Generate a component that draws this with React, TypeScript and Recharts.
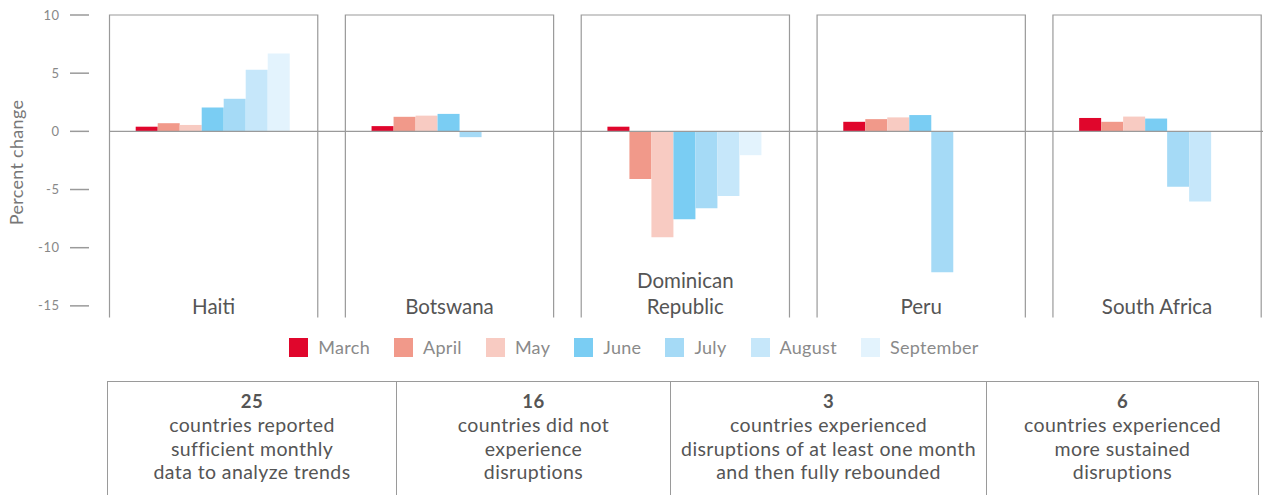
import React from 'react';
import { BarChart, Bar, XAxis, YAxis, ReferenceArea, ReferenceLine, Legend } from 'recharts';

const FONT = 'Lato, "Noto Sans", sans-serif';

// countries (a line break marks a two-line label)
const countries = ['Haiti', 'Botswana', 'Dominican\nRepublic', 'Peru', 'South Africa'];
const months = ['March', 'April', 'May', 'June', 'July', 'August', 'September'];
const monthColors = ['#e0062c', '#f1998a', '#f8cbc2', '#7acdf3', '#a5daf6', '#c6e7fa', '#e3f3fd'];

// percent change by month, one value per country
const march = [0.4, 0.45, 0.4, 0.82, 1.15];
const april = [0.7, 1.25, -4.1, 1.05, 0.82];
const may = [0.55, 1.35, -9.1, 1.2, 1.27];
const june = [2.05, 1.5, -7.55, 1.4, 1.1];
const july = [2.8, -0.5, -6.6, -12.1, -4.77];
const august = [5.3, null, -5.55, null, -6.03];
const september = [6.7, null, -2.05, null, null];
const seriesValues = [march, april, may, june, july, august, september];

const yTicks = [10, 5, 0, -5, -10, -15];

// summary boxes under the chart
const summaryCounts = ['25', '16', '3', '6'];
const summaryLines = [
  ['countries reported', 'sufficient monthly', 'data to analyze trends'],
  ['countries did not', 'experience', 'disruptions'],
  ['countries experienced', 'disruptions of at least one month', 'and then fully rebounded'],
  ['countries experienced', 'more sustained', 'disruptions'],
];
const summaryWidths = [289, 274, 316, 273];

const chartData = countries.map((country, i) => {
  const row: Record<string, any> = { country };
  months.forEach((m, j) => {
    row[m] = seriesValues[j][i];
  });
  return row;
});

const PANEL_INSET = 13.8;
const LINE_GRAY = '#9a9a9a';

const PanelFrame = (props: any) => {
  const { x, y, width, height } = props;
  const left = x + PANEL_INSET;
  const right = x + width - PANEL_INSET;
  return (
    <path
      d={`M${left},${y + height} V${y} H${right} V${y + height}`}
      fill="none"
      stroke={LINE_GRAY}
      strokeWidth={1.2}
    />
  );
};

const ZeroLine = (props: any) => {
  const { x1, x2, y1 } = props;
  return (
    <line
      x1={Math.min(x1, x2) + PANEL_INSET}
      x2={Math.max(x1, x2)}
      y1={y1}
      y2={y1}
      stroke={LINE_GRAY}
      strokeWidth={1.2}
    />
  );
};

// country names sit inside the panels, just above the axis
const CountryTick = (props: any) => {
  const { x, y, payload } = props;
  const lines = String(payload.value).split('\n');
  return (
    <text textAnchor="middle" fontFamily={FONT} fontSize={20.5} fill="#555">
      {lines.map((line, i) => (
        <tspan key={line} x={x} y={y - 4 - (lines.length - 1 - i) * 25.5}>
          {line}
        </tspan>
      ))}
    </text>
  );
};

const ValueTick = (props: any) => {
  const { x, y, payload } = props;
  return (
    <g>
      <line x1={x - 25.7} x2={x - 6.7} y1={y} y2={y} stroke={LINE_GRAY} strokeWidth={1.5} />
      <text x={x - 36} y={y + 4.6} textAnchor="end" fontFamily={FONT} fontSize={13} letterSpacing={0.6} fill="#888">
        {payload.value}
      </text>
    </g>
  );
};

const YTitle = () => (
  <text
    x={23}
    y={162.5}
    transform="rotate(-90 23 162.5)"
    textAnchor="middle"
    fontFamily={FONT}
    fontSize={18}
    letterSpacing={0.3}
    fill="#777"
  >
    Percent change
  </text>
);

const MonthLegend = () => (
  <div
    style={{
      display: 'flex',
      justifyContent: 'center',
      columnGap: 24,
      height: 42.5,
      paddingTop: 0.5,
      paddingRight: 7,
      boxSizing: 'border-box',
      fontFamily: FONT,
    }}
  >
    {months.map((m, i) => (
      <div key={m} style={{ display: 'flex', alignItems: 'center', height: 19 }}>
        <span style={{ width: 19, height: 19, background: monthColors[i], marginRight: 10 }} />
        <span style={{ fontSize: 18, letterSpacing: 0.3, color: '#8a8a8a', lineHeight: '19px' }}>{m}</span>
      </div>
    ))}
  </div>
);

const SummaryTable = () => (
  <div
    style={{
      position: 'absolute',
      top: 381,
      left: 107,
      display: 'flex',
      fontFamily: FONT,
      color: '#555',
      fontSize: 19.5,
      letterSpacing: 0.4,
      lineHeight: '23.3px',
      textAlign: 'center',
    }}
  >
    {summaryCounts.map((count, i) => (
      <div
        key={count}
        style={{
          width: summaryWidths[i],
          height: 130,
          boxSizing: 'border-box',
          borderTop: `1px solid ${LINE_GRAY}`,
          borderLeft: `1px solid ${LINE_GRAY}`,
          borderRight: i === summaryCounts.length - 1 ? `1px solid ${LINE_GRAY}` : 'none',
          paddingTop: 8,
        }}
      >
        <div style={{ fontWeight: 700, fontSize: 18.5 }}>{count}</div>
        {summaryLines[i].map((line) => (
          <div key={line}>{line}</div>
        ))}
      </div>
    ))}
  </div>
);

export default function App() {
  return (
    <div style={{ position: 'relative', width: 1263, height: 495, overflow: 'hidden', background: '#fff' }}>
      <style>{'body{margin:0}'}</style>
      <BarChart
        width={1275}
        height={380}
        data={chartData}
        margin={{ top: 15, right: 0, bottom: 0, left: 0 }}
        barCategoryGap={40}
        barGap={0}
      >
        {countries.map((c) => (
          <ReferenceArea key={c} x1={c} x2={c} shape={PanelFrame} />
        ))}
        <ReferenceLine y={0} shape={ZeroLine} />
        <XAxis
          dataKey="country"
          type="category"
          height={20}
          interval={0}
          tickLine={false}
          axisLine={false}
          tickSize={0}
          tickMargin={0}
          tick={<CountryTick />}
        />
        <YAxis
          type="number"
          domain={[-16, 10]}
          ticks={yTicks}
          width={95.7}
          tickLine={false}
          axisLine={false}
          tickSize={0}
          tickMargin={0}
          tick={<ValueTick />}
          label={{ content: <YTitle /> }}
        />
        <Legend verticalAlign="bottom" content={<MonthLegend />} />
        {months.map((m, i) => (
          <Bar key={m} dataKey={m} fill={monthColors[i]} isAnimationActive={false} />
        ))}
      </BarChart>
      <SummaryTable />
    </div>
  );
}
